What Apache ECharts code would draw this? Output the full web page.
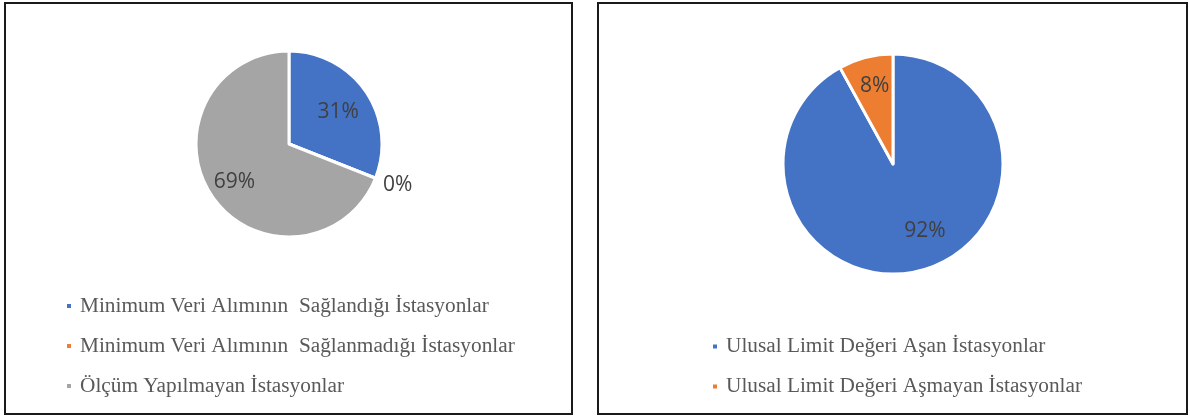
<!DOCTYPE html>
<html>
<head>
<meta charset="utf-8">
<script src="https://cdn.jsdelivr.net/npm/echarts@6/dist/echarts.min.js"></script>
<style>
  html, body { margin: 0; padding: 0; background: #fff; }
  #chart { width: 1190px; height: 416px; }
</style>
</head>
<body>
<div id="chart"></div>
<script>
// ---- data ----
const leftNames = ['Minimum Veri Alımının  Sağlandığı İstasyonlar', 'Minimum Veri Alımının  Sağlanmadığı İstasyonlar', 'Ölçüm Yapılmayan İstasyonlar'];
const leftValues = [31, 0, 69];
const rightNames = ['Ulusal Limit Değeri Aşan İstasyonlar', 'Ulusal Limit Değeri Aşmayan İstasyonlar'];
const rightValues = [92, 8];

// ---- styles ----
const leftColors = ['#4472C4', '#ED7D31', '#A5A5A5'];
const rightColors = ['#4472C4', '#ED7D31'];
const leftCenter = [289, 144], leftRadius = 93;
const rightCenter = [893, 164], rightRadius = 110;
// label placement tweaks (style only): radial fraction and pixel nudge
const leftLabelRatio = [0.6, 1.17, 0.69];
const leftLabelNudge = [[0, 0], [1, -3], [2, -1]];
const rightLabelRatio = [0.66, 0.74];
const rightLabelNudge = [[13, -8], [3, 4]];

const chart = echarts.init(document.getElementById('chart'), null, { renderer: 'canvas' });

function mkData(names, values, colors) {
  return names.map((n, i) => ({ name: n, value: values[i], itemStyle: { color: colors[i] } }));
}
function mkLayout(center, ratios, nudges) {
  return function (p) {
    const r = p.labelRect;
    const cx = r.x + r.width / 2, cy = r.y + r.height / 2;
    const k = ratios[p.dataIndex] / 0.5;
    const n = nudges[p.dataIndex];
    return { x: center[0] + (cx - center[0]) * k + n[0], y: center[1] + (cy - center[1]) * k + 1 + n[1], align: 'center', verticalAlign: 'middle' };
  };
}

const labelStyle = {
  show: true,
  position: 'inside',
  formatter: '{d}%',
  color: '#404040',
  fontFamily: 'Open Sans',
  fontSize: 21
};

const legendText = {
  fontFamily: 'Liberation Serif',
  fontSize: 21.3,
  lineHeight: 21,
  color: '#595959',
  padding: [0, 0, 0, 3]
};

chart.setOption({
  animation: false,
  backgroundColor: '#fff',
  graphic: [
    { type: 'rect', shape: { x: 5, y: 3, width: 567, height: 411 }, style: { fill: 'none', stroke: '#1a1a1a', lineWidth: 2 }, z: 100 },
    { type: 'rect', shape: { x: 598, y: 3, width: 589, height: 411 }, style: { fill: 'none', stroke: '#1a1a1a', lineWidth: 2 }, z: 100 }
  ],
  legend: [
    {
      data: leftNames, orient: 'vertical', left: 65, top: 295.5, padding: 0,
      icon: 'rect', itemWidth: 6, itemHeight: 6, itemGap: 19,
      selectedMode: false, textStyle: legendText
    },
    {
      data: rightNames, orient: 'vertical', left: 711, top: 336, padding: 0,
      icon: 'rect', itemWidth: 6, itemHeight: 6, itemGap: 19,
      selectedMode: false, textStyle: legendText
    }
  ],
  series: [
    {
      type: 'pie', center: leftCenter, radius: [0, leftRadius],
      startAngle: 90, clockwise: true, minShowLabelAngle: -1,
      stillShowZeroSum: true, avoidLabelOverlap: false,
      itemStyle: { borderColor: '#fff', borderWidth: 3 },
      label: labelStyle, labelLine: { show: false },
      labelLayout: mkLayout(leftCenter, leftLabelRatio, leftLabelNudge),
      emphasis: { disabled: true },
      data: mkData(leftNames, leftValues, leftColors)
    },
    {
      type: 'pie', center: rightCenter, radius: [0, rightRadius],
      startAngle: 90, clockwise: true, avoidLabelOverlap: false,
      itemStyle: { borderColor: '#fff', borderWidth: 3 },
      label: labelStyle, labelLine: { show: false },
      labelLayout: mkLayout(rightCenter, rightLabelRatio, rightLabelNudge),
      emphasis: { disabled: true },
      data: mkData(rightNames, rightValues, rightColors)
    }
  ]
});
</script>
</body>
</html>
